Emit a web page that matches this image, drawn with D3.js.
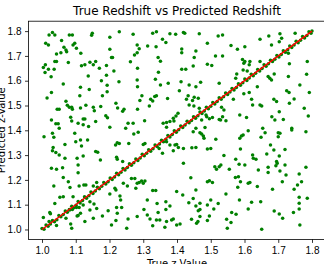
<!DOCTYPE html>
<html>
<head>
<meta charset="utf-8">
<script src="https://cdn.jsdelivr.net/npm/d3@7"></script>
<style>
  body { margin: 0; background: #fff; }
  svg { display: block; font-family: "DejaVu Sans", sans-serif; }
  .tick text { font-size: 10px; fill: #000; }
  .tick line { stroke: #000; stroke-width: 0.8; }
</style>
</head>
<body>
<script>
// scattered predictions (true z, predicted z)
const scatterPts = [
  [1.021,1.784],[1.031,1.794],[1.038,1.784],[1.081,1.784],[1.090,1.784],[1.149,1.791],[1.147,1.783],[1.201,1.775],
  [1.229,1.797],[1.270,1.787],[1.328,1.791],[1.339,1.797],[1.379,1.789],[1.396,1.787],[1.011,1.751],[1.019,1.744],
  [1.058,1.762],[1.065,1.735],[1.071,1.724],[1.092,1.744],[1.097,1.751],[1.102,1.731],[1.073,1.717],[1.056,1.713],
  [1.043,1.708],[1.115,1.711],[1.201,1.727],[1.282,1.744],[1.288,1.729],[1.282,1.713],[1.274,1.704],[1.313,1.740],
  [1.338,1.737],[1.357,1.767],[1.367,1.754],[1.038,1.677],[1.043,1.677],[1.010,1.664],[1.004,1.653],[1.019,1.646],
  [1.009,1.633],[1.036,1.646],[1.078,1.673],[1.117,1.660],[1.127,1.664],[1.142,1.674],[1.152,1.664],[1.159,1.677],
  [1.170,1.650],[1.191,1.661],[1.206,1.694],[1.209,1.694],[1.262,1.676],[1.283,1.650],[1.344,1.694],[1.351,1.678],
  [1.027,1.616],[1.137,1.619],[1.176,1.600],[1.191,1.622],[1.213,1.639],[1.228,1.596],[1.282,1.603],[1.283,1.576],
  [1.336,1.606],[1.345,1.634],[1.351,1.583],[1.374,1.590],[1.407,1.560],[1.063,1.587],[1.114,1.574],[1.140,1.565],
  [1.193,1.582],[1.193,1.555],[1.179,1.539],[1.028,1.552],[1.015,1.530],[1.071,1.517],[1.075,1.501],[1.081,1.493],
  [1.088,1.493],[1.090,1.485],[1.045,1.485],[1.051,1.485],[1.112,1.539],[1.114,1.490],[1.130,1.501],[1.152,1.493],
  [1.174,1.496],[1.155,1.479],[1.219,1.509],[1.224,1.490],[1.243,1.485],[1.239,1.477],[1.296,1.539],[1.290,1.520],
  [1.283,1.485],[1.318,1.498],[1.322,1.525],[1.328,1.518],[1.334,1.536],[1.339,1.539],[1.372,1.528],[1.028,1.442],
  [1.041,1.426],[1.048,1.426],[1.051,1.408],[1.085,1.453],[1.088,1.438],[1.107,1.428],[1.122,1.446],[1.127,1.446],
  [1.122,1.422],[1.138,1.415],[1.159,1.435],[1.189,1.459],[1.194,1.451],[1.201,1.412],[1.255,1.428],[1.270,1.428],
  [1.304,1.439],[1.248,1.408],[1.359,1.428],[1.369,1.431],[1.379,1.435],[1.389,1.449],[1.397,1.458],[1.403,1.469],
  [1.391,1.438],[1.369,1.412],
  [1.419,1.794],[1.423,1.791],[1.466,1.789],[1.522,1.780],[1.535,1.784],[1.646,1.767],[1.672,1.780],[1.680,1.744],
  [1.705,1.789],[1.710,1.771],[1.750,1.791],[1.490,1.751],[1.560,1.742],[1.579,1.727],[1.601,1.737],[1.414,1.728],
  [1.414,1.713],[1.456,1.720],[1.451,1.694],[1.514,1.700],[1.535,1.700],[1.594,1.686],[1.601,1.677],[1.598,1.670],
  [1.616,1.677],[1.614,1.664],[1.646,1.677],[1.703,1.757],[1.730,1.711],[1.733,1.668],[1.786,1.677],[1.414,1.646],
  [1.426,1.646],[1.448,1.659],[1.490,1.666],[1.503,1.661],[1.577,1.627],[1.574,1.610],[1.596,1.643],[1.608,1.639],
  [1.670,1.617],[1.675,1.610],[1.680,1.603],[1.688,1.627],[1.730,1.617],[1.784,1.626],[1.412,1.596],[1.436,1.583],
  [1.456,1.576],[1.470,1.594],[1.525,1.590],[1.433,1.539],[1.428,1.525],[1.446,1.520],[1.451,1.533],[1.463,1.529],
  [1.567,1.525],[1.598,1.547],[1.614,1.552],[1.638,1.576],[1.621,1.525],[1.624,1.502],[1.646,1.502],[1.651,1.498],
  [1.687,1.525],[1.695,1.516],[1.703,1.475],[1.732,1.552],[1.725,1.560],[1.733,1.509],[1.747,1.526],[1.764,1.583],
  [1.792,1.552],[1.436,1.502],[1.450,1.498],[1.466,1.489],[1.486,1.462],[1.488,1.455],[1.496,1.447],[1.505,1.452],
  [1.525,1.444],[1.535,1.455],[1.529,1.442],[1.539,1.482],[1.532,1.493],[1.473,1.442],[1.456,1.408],[1.483,1.411],
  [1.545,1.439],[1.586,1.462],[1.606,1.452],[1.654,1.408],[1.681,1.455],[1.690,1.442],[1.715,1.444],[1.740,1.408],
  [1.777,1.489],[1.789,1.458],
  [1.006,1.374],[1.031,1.388],[1.035,1.372],[1.068,1.343],[1.097,1.388],[1.100,1.354],[1.114,1.361],[1.117,1.337],
  [1.135,1.361],[1.033,1.331],[1.031,1.318],[1.041,1.310],[1.051,1.300],[1.068,1.287],[1.104,1.287],[1.107,1.260],
  [1.107,1.229],[1.122,1.296],[1.159,1.314],[1.165,1.311],[1.173,1.280],[1.218,1.341],[1.223,1.350],[1.229,1.347],
  [1.257,1.347],[1.272,1.385],[1.285,1.392],[1.300,1.343],[1.305,1.347],[1.221,1.291],[1.223,1.283],[1.239,1.274],
  [1.347,1.327],[1.357,1.307],[1.369,1.354],[1.379,1.341],[1.394,1.341],[1.399,1.343],[1.404,1.331],[1.389,1.318],
  [1.028,1.247],[1.043,1.243],[1.061,1.249],[1.063,1.210],[1.078,1.193],[1.083,1.169],[1.035,1.175],[1.110,1.175],
  [1.124,1.179],[1.130,1.179],[1.162,1.189],[1.152,1.175],[1.201,1.143],[1.216,1.166],[1.219,1.159],[1.241,1.186],
  [1.253,1.175],[1.265,1.206],[1.275,1.206],[1.278,1.166],[1.282,1.186],[1.288,1.189],[1.295,1.196],[1.300,1.186],
  [1.305,1.196],[1.328,1.157],[1.337,1.157],[1.312,1.119],[1.341,1.105],[1.367,1.112],[1.379,1.095],[1.399,1.153],
  [1.367,1.081],[1.038,1.105],[1.053,1.130],[1.063,1.132],[1.092,1.132],[1.142,1.112],[1.142,1.079],[1.154,1.103],
  [1.122,1.099],[1.110,1.089],[1.102,1.089],[1.090,1.081],[1.081,1.081],[1.023,1.068],[1.025,1.063],[1.004,1.048],
  [1.021,1.032],[1.043,1.016],[1.071,1.045],[1.085,1.022],[1.088,1.005],[1.104,1.054],[1.107,1.056],[1.114,1.065],
  [1.127,1.032],[1.152,1.045],[1.162,1.085],[1.179,1.054],[1.196,1.076],[1.206,1.018],[1.219,1.036],[1.221,1.089],
  [1.223,1.065],[1.233,1.119],[1.231,1.135],[1.236,1.089],[1.251,1.005],[1.255,1.042],[1.282,1.052],[1.302,1.081],
  [1.312,1.058],[1.320,1.042],[1.328,1.015],[1.339,1.038],[1.344,1.068],[1.349,1.038],[1.364,1.009],[1.369,1.032],
  [1.384,1.038],[1.389,1.042],[1.399,1.018],
  [1.448,1.394],[1.468,1.390],[1.473,1.385],[1.478,1.377],[1.480,1.368],[1.515,1.364],[1.611,1.398],[1.591,1.377],
  [1.596,1.381],[1.586,1.368],[1.661,1.390],[1.649,1.372],[1.700,1.390],[1.705,1.388],[1.700,1.374],[1.740,1.401],
  [1.782,1.394],[1.419,1.327],[1.444,1.330],[1.456,1.331],[1.490,1.325],[1.500,1.327],[1.588,1.325],[1.624,1.300],
  [1.626,1.287],[1.634,1.283],[1.539,1.298],[1.574,1.283],[1.584,1.263],[1.601,1.260],[1.666,1.304],[1.677,1.341],
  [1.687,1.321],[1.703,1.296],[1.720,1.323],[1.695,1.274],[1.697,1.267],[1.693,1.257],[1.670,1.251],[1.670,1.230],
  [1.720,1.260],[1.705,1.236],[1.723,1.220],[1.762,1.224],[1.782,1.251],[1.419,1.267],[1.512,1.253],[1.517,1.243],
  [1.525,1.253],[1.530,1.260],[1.555,1.243],[1.441,1.209],[1.490,1.193],[1.496,1.197],[1.505,1.189],[1.573,1.210],
  [1.582,1.213],[1.588,1.193],[1.611,1.186],[1.616,1.189],[1.641,1.240],[1.638,1.173],[1.580,1.170],[1.683,1.162],
  [1.712,1.193],[1.757,1.179],[1.769,1.193],[1.747,1.162],[1.762,1.130],[1.786,1.126],[1.762,1.106],[1.762,1.083],
  [1.417,1.139],[1.435,1.108],[1.448,1.125],[1.456,1.159],[1.456,1.095],[1.463,1.076],[1.468,1.081],[1.468,1.106],
  [1.490,1.099],[1.500,1.119],[1.522,1.105],[1.509,1.083],[1.496,1.054],[1.468,1.052],[1.443,1.041],[1.458,1.025],
  [1.462,1.032],[1.490,1.036],[1.545,1.143],[1.562,1.068],[1.575,1.061],[1.585,1.119],[1.611,1.083],[1.621,1.110],
  [1.648,1.112],[1.547,1.041],[1.560,1.028],[1.549,1.005],[1.651,1.001],[1.688,1.075],[1.703,1.062],[1.713,1.045],
  [1.745,1.068],[1.764,1.018],[1.409,1.022]
];

// predictions lying on the true = predicted diagonal
const diagonalPts = [
  [1.000,1.004],[1.006,1.001],[1.012,1.018],[1.018,1.013],[1.025,1.022],[1.031,1.036],[1.037,1.031],[1.044,1.039],
  [1.050,1.056],[1.056,1.051],[1.063,1.060],[1.069,1.075],[1.075,1.069],[1.082,1.079],[1.088,1.094],[1.094,1.088],
  [1.101,1.098],[1.107,1.113],[1.113,1.107],[1.120,1.117],[1.126,1.132],[1.132,1.126],[1.139,1.136],[1.145,1.151],
  [1.151,1.145],[1.158,1.155],[1.164,1.170],[1.170,1.164],[1.177,1.174],[1.183,1.189],[1.189,1.183],[1.196,1.193],
  [1.202,1.208],[1.208,1.202],[1.215,1.212],[1.221,1.227],[1.227,1.221],[1.234,1.231],[1.240,1.246],[1.246,1.240],
  [1.253,1.250],[1.259,1.265],[1.265,1.259],[1.272,1.269],[1.278,1.284],[1.284,1.278],[1.291,1.288],[1.297,1.303],
  [1.303,1.297],[1.310,1.307],[1.316,1.322],[1.322,1.316],[1.329,1.326],[1.335,1.341],[1.341,1.335],[1.348,1.345],
  [1.354,1.360],[1.360,1.354],[1.367,1.364],[1.373,1.379],[1.379,1.373],[1.386,1.383],[1.392,1.398],[1.398,1.392],
  [1.405,1.402],[1.411,1.417],[1.417,1.411],[1.424,1.421],[1.430,1.436],[1.436,1.430],[1.443,1.440],[1.449,1.455],
  [1.455,1.449],[1.462,1.459],[1.468,1.474],[1.474,1.468],[1.481,1.478],[1.487,1.493],[1.493,1.487],[1.500,1.497],
  [1.506,1.512],[1.512,1.506],[1.519,1.516],[1.525,1.531],[1.531,1.525],[1.538,1.535],[1.544,1.550],[1.550,1.544],
  [1.557,1.554],[1.563,1.569],[1.569,1.563],[1.576,1.573],[1.582,1.588],[1.588,1.582],[1.595,1.592],[1.601,1.607],
  [1.607,1.601],[1.614,1.611],[1.620,1.626],[1.626,1.620],[1.633,1.630],[1.639,1.645],[1.645,1.639],[1.652,1.649],
  [1.658,1.664],[1.664,1.658],[1.671,1.668],[1.677,1.683],[1.683,1.677],[1.690,1.687],[1.696,1.702],[1.702,1.696],
  [1.709,1.706],[1.715,1.721],[1.721,1.715],[1.728,1.725],[1.734,1.740],[1.740,1.734],[1.747,1.744],[1.753,1.759],
  [1.759,1.753],[1.766,1.763],[1.772,1.778],[1.778,1.772],[1.785,1.782],[1.791,1.797],[1.797,1.791],[1.800,1.800]
];

// y = x reference line
const lineEnds = [[1.0, 1.0], [1.8, 1.8]];
const tickValues = [1.0, 1.1, 1.2, 1.3, 1.4, 1.5, 1.6, 1.7, 1.8];

const W = 324, H = 264;
const plot = { left: 28.5, right: 325.5, top: 21.2, bottom: 239.4 };

const x = d3.scaleLinear().domain([0.96, 1.84]).range([plot.left, plot.right]);
const y = d3.scaleLinear().domain([0.96, 1.84]).range([plot.bottom, plot.top]);

const svg = d3.select('body').append('svg')
  .attr('width', W)
  .attr('height', H);

svg.append('rect').attr('width', W).attr('height', H).attr('fill', '#fff');

// points
svg.append('g')
  .selectAll('circle')
  .data(scatterPts.concat(diagonalPts))
  .join('circle')
  .attr('cx', d => x(d[0]))
  .attr('cy', d => y(d[1]))
  .attr('r', 1.75)
  .attr('fill', '#008000');

// red line
const line = d3.line().x(d => x(d[0])).y(d => y(d[1]));
svg.append('path')
  .datum(lineEnds)
  .attr('d', line)
  .attr('fill', 'none')
  .attr('stroke', '#ff0000')
  .attr('stroke-width', 1.5);

// axes
const fmt = d3.format('.1f');
const xAxis = svg.append('g')
  .attr('transform', `translate(0,${plot.bottom})`)
  .call(d3.axisBottom(x).tickValues(tickValues).tickFormat(fmt).tickSize(3.5).tickPadding(4.5));
const yAxis = svg.append('g')
  .attr('transform', `translate(${plot.left},0)`)
  .call(d3.axisLeft(y).tickValues(tickValues).tickFormat(fmt).tickSize(3.5).tickPadding(3.5));
xAxis.select('.domain').remove();
yAxis.select('.domain').remove();

// frame
svg.append('rect')
  .attr('x', plot.left)
  .attr('y', plot.top)
  .attr('width', plot.right - plot.left)
  .attr('height', plot.bottom - plot.top)
  .attr('fill', 'none')
  .attr('stroke', '#000')
  .attr('stroke-width', 0.8);

// title and axis labels
svg.append('text')
  .attr('x', (plot.left + plot.right) / 2)
  .attr('y', 14.5)
  .attr('text-anchor', 'middle')
  .style('font-size', '12px')
  .text('True Redshift vs Predicted Redshift');

svg.append('text')
  .attr('x', (plot.left + plot.right) / 2)
  .attr('y', 266.5)
  .attr('text-anchor', 'middle')
  .style('font-size', '10px')
  .text('True z-Value');

svg.append('text')
  .attr('transform', `translate(4.5,${(plot.top + plot.bottom) / 2}) rotate(-90)`)
  .attr('text-anchor', 'middle')
  .style('font-size', '10px')
  .text('Predicted z-Value');
</script>
</body>
</html>
